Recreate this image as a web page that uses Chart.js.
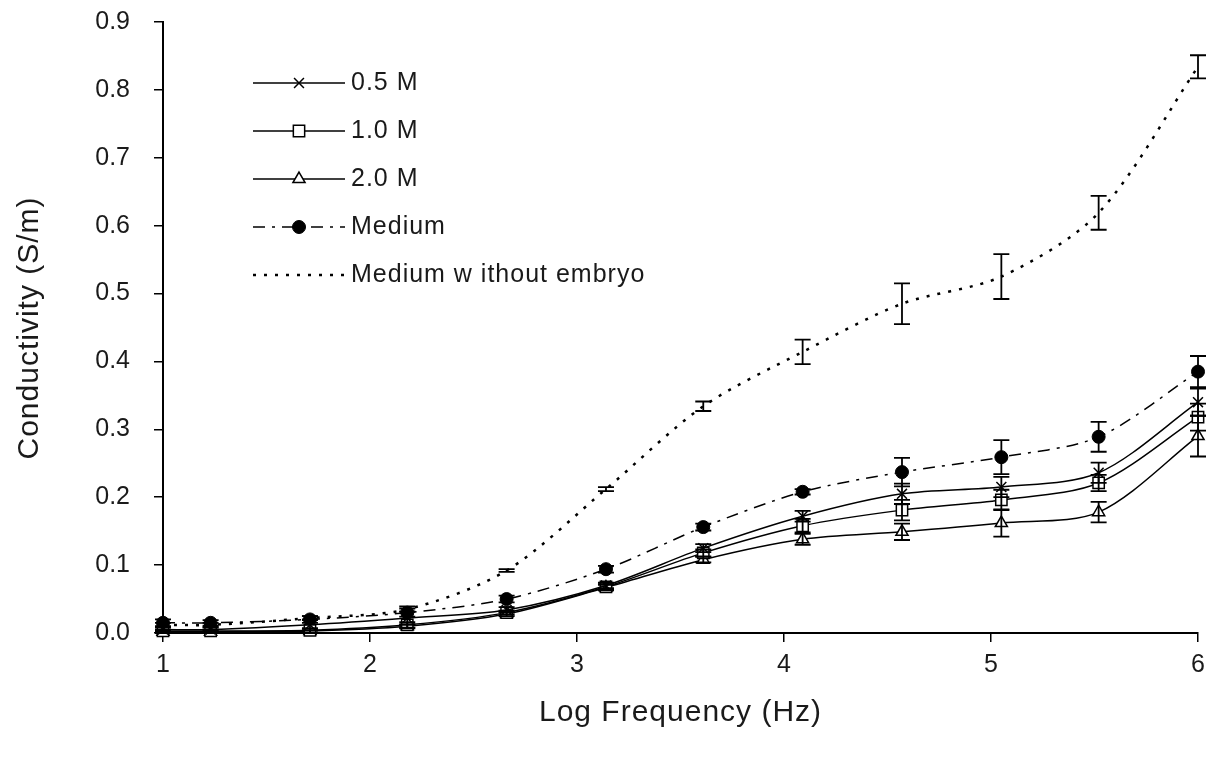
<!DOCTYPE html>
<html>
<head>
<meta charset="utf-8">
<script src="https://cdn.jsdelivr.net/npm/chart.js@4.4.0/dist/chart.umd.min.js"></script>
<style>
html,body{margin:0;padding:0;background:#fff;}
#wrap{width:1219px;height:757px;position:relative;}
</style>
</head>
<body>
<div id="wrap"><canvas id="c" width="1219" height="757"></canvas></div>
<script>
// ---- data ----
const logFreq = [1, 1.23, 1.71, 2.18, 2.66, 3.14, 3.61, 4.09, 4.57, 5.05, 5.52, 6];
const m05 = [0.005, 0.005, 0.012, 0.022, 0.034, 0.070, 0.125, 0.172, 0.205, 0.215, 0.236, 0.340];
const m05Err = [0.003, 0.003, 0.008, 0.010, 0.004, 0.004, 0.006, 0.008, 0.015, 0.015, 0.015, 0.020];
const m10 = [0.003, 0.003, 0.004, 0.012, 0.030, 0.068, 0.118, 0.158, 0.181, 0.196, 0.221, 0.318];
const m10Err = [0.002, 0.002, 0.003, 0.004, 0.003, 0.004, 0.005, 0.010, 0.015, 0.015, 0.012, 0.020];
const m20 = [0.002, 0.002, 0.003, 0.010, 0.028, 0.067, 0.108, 0.138, 0.149, 0.162, 0.178, 0.290];
const m20Err = [0.002, 0.002, 0.003, 0.003, 0.003, 0.004, 0.004, 0.008, 0.012, 0.020, 0.015, 0.030];
const medium = [0.015, 0.015, 0.020, 0.030, 0.050, 0.094, 0.156, 0.208, 0.237, 0.259, 0.289, 0.385];
const mediumErr = [0.005, 0.004, 0.005, 0.006, 0.005, 0.005, 0.005, 0.004, 0.021, 0.025, 0.022, 0.023];
const noEmbryo = [0.012, 0.012, 0.022, 0.035, 0.092, 0.212, 0.334, 0.414, 0.485, 0.525, 0.619, 0.834];
const noEmbryoErr = [0.003, 0.003, 0.003, 0.004, 0.002, 0.003, 0.007, 0.018, 0.030, 0.033, 0.025, 0.017];
const seriesNames = ['0.5 M', '1.0 M', '2.0 M', 'Medium', 'Medium w ithout embryo'];
const yTicks = [0, 0.1, 0.2, 0.3, 0.4, 0.5, 0.6, 0.7, 0.8, 0.9];
const xTicks = [1, 2, 3, 4, 5, 6];
const xTitle = 'Log Frequency (Hz)';
const yTitle = 'Conductivity (S/m)';

const FONT = 'Liberation Sans, Arial, sans-serif';
const TXT = '#1a1a1a';
const pts = arr => logFreq.map((x, i) => ({x: x, y: arr[i]}));

const datasets = [
  {label: seriesNames[0], data: pts(m05), errors: m05Err, borderColor:'#000', borderWidth:1.5,
   pointStyle:'crossRot', pointRadius:7, pointBorderWidth:1.5, pointBackgroundColor:'#000', pointBorderColor:'#000', borderDash:[]},
  {label: seriesNames[1], data: pts(m10), errors: m10Err, borderColor:'#000', borderWidth:1.5,
   pointStyle:'rect', pointRadius:8, pointBorderWidth:1.5, pointBackgroundColor:'#fff', pointBorderColor:'#000', borderDash:[]},
  {label: seriesNames[2], data: pts(m20), errors: m20Err, borderColor:'#000', borderWidth:1.5,
   pointStyle:'triangle', pointRadius:7, pointBorderWidth:1.5, pointBackgroundColor:'#fff', pointBorderColor:'#000', borderDash:[]},
  {label: seriesNames[3], data: pts(medium), errors: mediumErr, borderColor:'#000', borderWidth:1.5,
   pointStyle:'circle', pointRadius:6.5, pointBorderWidth:1, pointBackgroundColor:'#000', pointBorderColor:'#000', borderDash:[12,7,3,7]},
  {label: seriesNames[4], data: pts(noEmbryo), errors: noEmbryoErr, borderColor:'#000', borderWidth:2.5,
   pointStyle:'circle', pointRadius:0, pointBorderWidth:0, pointBackgroundColor:'#000', pointBorderColor:'#000', borderDash:[3,8]}
];
datasets.forEach(d => { d.fill = false; d.tension = 0.3; d.clip = false; d.pointHoverRadius = d.pointRadius; });

const errorBars = {
  id: 'errorBars',
  afterDatasetsDraw(chart) {
    const ctx = chart.ctx, ys = chart.scales.y;
    ctx.save();
    ctx.strokeStyle = '#000';
    ctx.lineWidth = 1.8;
    ctx.setLineDash([]);
    chart.data.datasets.forEach((ds, di) => {
      const meta = chart.getDatasetMeta(di);
      ds.data.forEach((p, i) => {
        const e = ds.errors[i];
        const px = meta.data[i].x;
        const top = ys.getPixelForValue(p.y + e);
        const bot = ys.getPixelForValue(p.y - e);
        const cw = 8;
        ctx.beginPath();
        ctx.moveTo(px, top); ctx.lineTo(px, bot);
        ctx.moveTo(px - cw, top); ctx.lineTo(px + cw, top);
        ctx.moveTo(px - cw, bot); ctx.lineTo(px + cw, bot);
        ctx.stroke();
      });
    });
    ctx.restore();
  }
};

const textParts = {
  id: 'textParts',
  afterDraw(chart) {
    const ctx = chart.ctx, a = chart.chartArea;
    ctx.save();
    try { ctx.letterSpacing = '1px'; } catch (e) {}
    // legend
    const x0 = 253, x1 = 345, tx = 351;
    chart.data.datasets.forEach((ds, i) => {
      const y = 83 + i * 48;
      ctx.strokeStyle = '#000';
      ctx.lineWidth = ds.borderWidth;
      ctx.setLineDash(ds.borderDash);
      ctx.beginPath(); ctx.moveTo(x0, y); ctx.lineTo(x1, y); ctx.stroke();
      ctx.setLineDash([]);
      if (ds.pointRadius > 0) {
        ctx.fillStyle = ds.pointBackgroundColor;
        ctx.strokeStyle = ds.pointBorderColor;
        ctx.lineWidth = ds.pointBorderWidth;
        Chart.helpers.drawPoint(ctx, {pointStyle: ds.pointStyle, radius: ds.pointRadius, borderWidth: ds.pointBorderWidth, rotation: 0}, (x0 + x1) / 2, y);
      }
      ctx.fillStyle = TXT;
      ctx.font = '25px ' + FONT;
      ctx.textBaseline = 'middle';
      ctx.textAlign = 'left';
      ctx.fillText(ds.label, tx, y);
    });
    // axis titles
    ctx.font = '30px ' + FONT;
    ctx.fillStyle = TXT;
    ctx.textAlign = 'center';
    ctx.textBaseline = 'middle';
    ctx.fillText(xTitle, (a.left + a.right) / 2, 713);
    ctx.translate(30, 328);
    ctx.rotate(-Math.PI / 2);
    ctx.fillText(yTitle, 0, 0);
    ctx.restore();
  }
};

new Chart(document.getElementById('c'), {
  type: 'line',
  data: {datasets: datasets},
  options: {
    responsive: false,
    animation: false,
    events: [],
    layout: {autoPadding: false, padding: {left: 0, right: 21, top: 22, bottom: 0}},
    plugins: {legend: {display: false}, tooltip: {enabled: false}},
    scales: {
      x: {
        type: 'linear', min: 1, max: 6,
        afterBuildTicks(s) { s.ticks = xTicks.map(v => ({value: v})); },
        afterFit(s) { s.height = 124; s.paddingLeft = 0; s.paddingRight = 0; },
        grid: {display: true, drawOnChartArea: false, drawTicks: true, tickLength: 9, color: '#000', lineWidth: 1.5},
        border: {display: true, color: '#000', width: 2},
        ticks: {color: TXT, font: {family: FONT, size: 25}, padding: 8, callback: v => String(v), maxRotation: 0},
        title: {display: false}
      },
      y: {
        min: 0, max: 0.9,
        afterBuildTicks(s) { s.ticks = yTicks.map(v => ({value: v})); },
        afterFit(s) { s.width = 163; s.paddingTop = 0; s.paddingBottom = 0; },
        grid: {display: true, drawOnChartArea: false, drawTicks: true, tickLength: 9, color: '#000', lineWidth: 1.5},
        border: {display: true, color: '#000', width: 2},
        ticks: {color: TXT, font: {family: FONT, size: 25}, padding: 24, callback: v => Number(v).toFixed(1)},
        title: {display: false}
      }
    }
  },
  plugins: [errorBars, textParts]
});
</script>
</body>
</html>
